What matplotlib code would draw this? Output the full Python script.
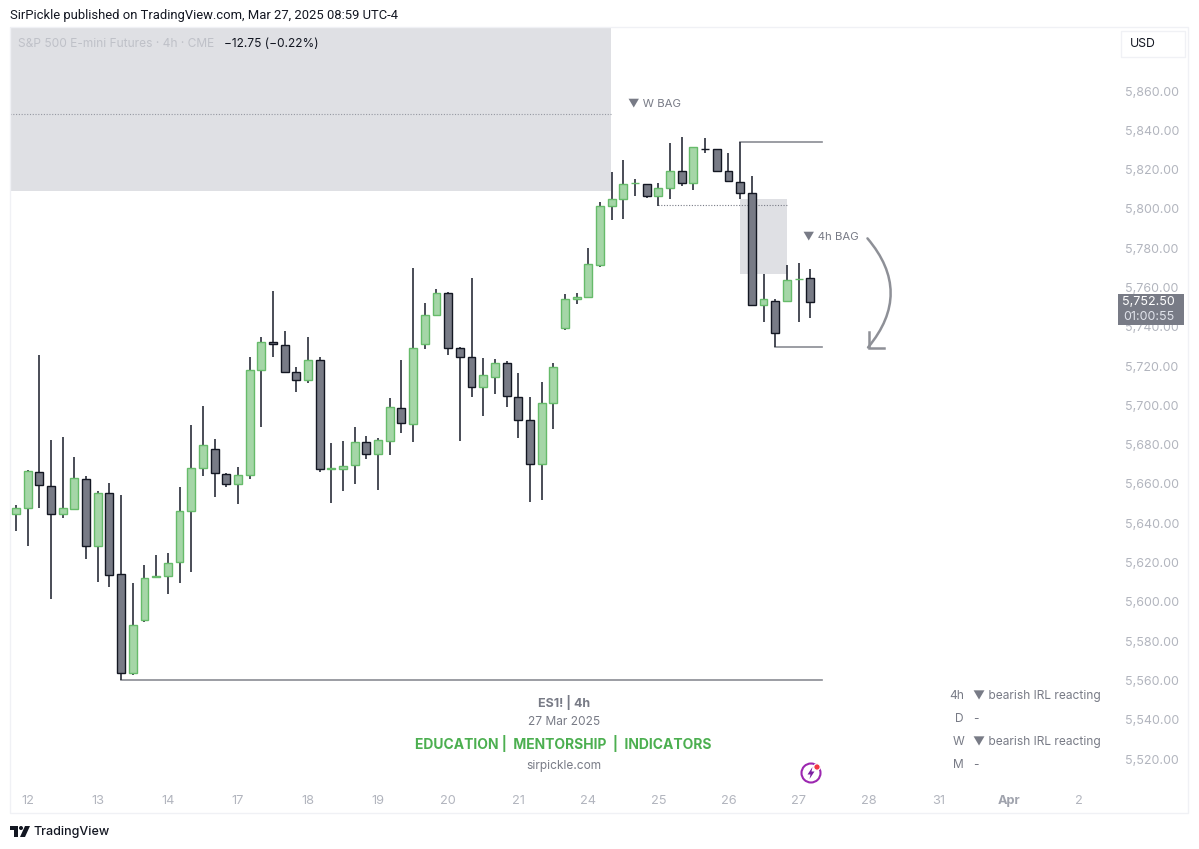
import matplotlib
matplotlib.use("Agg")
import matplotlib.pyplot as plt
from matplotlib.lines import Line2D
from matplotlib.patches import Rectangle, Circle, Polygon

plt.rcParams['font.family'] = ['Inter', 'DejaVu Sans']

W, H = 1199, 849

# OHLC of the 4h bars
opens = [5644.6, 5647.8, 5666.3, 5658.8, 5644.6, 5647.5, 5662.7, 5628.5, 5655.3, 5614.0,
         5564.0, 5591.0, 5612.5, 5613.4, 5620.5, 5646.1, 5668.3, 5677.7, 5665.1, 5660.2,
         5664.8, 5718.0, 5732.3, 5730.7, 5717.0, 5713.1, 5722.9, 5667.8, 5667.8, 5669.8,
         5681.2, 5675.4, 5682.1, 5698.8, 5690.7, 5731.3, 5746.2, 5757.0, 5729.4, 5724.6,
         5709.2, 5714.6, 5721.6, 5704.4, 5692.6, 5670.4, 5701.4, 5739.4, 5754.0, 5755.3,
         5771.6, 5801.5, 5805.2, 5813.2, 5812.5, 5806.7, 5810.8, 5819.3, 5813.3, 5830.6,
         5830.3, 5819.1, 5813.8, 5807.9, 5750.9, 5753.1, 5753.3, 5764.1, 5764.8]
highs = [5649.3, 5667.1, 5725.8, 5682.4, 5683.8, 5673.8, 5664.1, 5656.3, 5660.4, 5654.6,
         5609.8, 5619.0, 5623.7, 5624.7, 5658.5, 5690.0, 5699.7, 5682.9, 5665.6, 5668.7,
         5724.8, 5734.6, 5758.4, 5737.7, 5719.7, 5734.6, 5724.5, 5680.7, 5681.7, 5688.8,
         5684.3, 5683.6, 5703.8, 5722.9, 5769.8, 5752.3, 5759.4, 5757.9, 5729.9, 5764.7,
         5724.1, 5723.4, 5722.4, 5716.7, 5704.1, 5712.1, 5721.8, 5756.5, 5757.0, 5779.9,
         5803.7, 5818.9, 5824.9, 5815.4, 5812.5, 5813.2, 5833.4, 5836.8, 5831.7, 5835.9,
         5830.6, 5828.3, 5833.9, 5816.7, 5766.7, 5754.1, 5771.3, 5772.3, 5769.2]
lows = [5636.1, 5628.5, 5648.0, 5601.3, 5642.9, 5646.8, 5621.8, 5610.3, 5607.8, 5560.3,
        5563.0, 5589.8, 5612.5, 5603.9, 5609.5, 5615.1, 5664.1, 5653.6, 5658.3, 5650.0,
        5662.7, 5689.2, 5724.8, 5716.3, 5707.0, 5711.6, 5666.1, 5650.2, 5656.6, 5659.8,
        5672.7, 5657.0, 5674.8, 5685.8, 5681.5, 5728.5, 5746.2, 5725.5, 5681.9, 5704.1,
        5694.6, 5705.6, 5699.2, 5683.6, 5650.7, 5651.7, 5687.8, 5738.4, 5751.6, 5754.6,
        5770.6, 5794.3, 5794.7, 5806.6, 5805.4, 5801.6, 5805.2, 5811.8, 5809.4, 5828.6,
        5818.9, 5814.4, 5805.2, 5750.4, 5742.6, 5729.5, 5753.3, 5742.6, 5744.5]
closes = [5647.6, 5666.5, 5659.3, 5644.7, 5647.8, 5662.9, 5628.3, 5655.3, 5613.9, 5564.0,
          5588.1, 5612.2, 5613.2, 5620.0, 5646.3, 5668.0, 5679.7, 5665.4, 5660.2, 5664.8,
          5717.9, 5732.1, 5731.3, 5717.2, 5713.1, 5723.1, 5667.8, 5668.1, 5669.0, 5681.4,
          5675.4, 5682.2, 5699.0, 5690.9, 5729.0, 5746.2, 5757.4, 5729.2, 5724.6, 5709.2,
          5715.6, 5721.6, 5705.0, 5692.6, 5670.0, 5701.4, 5719.4, 5754.2, 5755.3, 5771.8,
          5801.3, 5805.2, 5812.5, 5813.3, 5806.7, 5810.5, 5819.3, 5813.3, 5831.3, 5830.5,
          5819.3, 5814.4, 5808.3, 5750.9, 5754.1, 5736.7, 5763.6, 5764.5, 5752.5]

date_labels = ['12', '13', '14', '17', '18', '19', '20', '21', '24', '25', '26', '27', '28', '31', 'Apr', '2']
date_ticks = [1, 7, 13, 19, 25, 31, 37, 43, 49, 55, 61, 67, 73, 79, 85, 91]
price_ticks = list(range(5520, 5861, 20))

# zones and levels
w_zone = (5809.1, 50.94)
w_mid = 5848.2
h4_zone = (5805.0, 5766.7, 62, 66)
h4_mid = 5801.8
last_price = closes[-1]

GREEN_FILL = '#a5d6a7'
GREEN_EDGE = '#66bb6a'
DARK_FILL = '#787b86'
DARK_EDGE = '#131722'
GREY_TEXT = '#787b86'
AXIS_TEXT = '#b2b5be'
ZONE = '#dfe0e4'
ARROW = '#8e9097'

fig = plt.figure(figsize=(W / 100, H / 100), dpi=100, facecolor='white')

# pane runs from y=27 to y=813, x=10 to 1118 in pixels
ax = fig.add_axes([10 / W, 1 - 813 / H, 1108 / W, 786 / H])
ax.set_xlim(-0.514, 94.35)
ax.set_ylim(5860 - 722 / 1.965, 5860 + 64 / 1.965)
for s in ax.spines.values():
    s.set_visible(False)

ax.yaxis.tick_right()
ax.set_yticks(price_ticks)
ax.set_yticklabels([f'{p:,.2f}' for p in price_ticks])
ax.tick_params(axis='y', length=0, pad=5, labelsize=9.0, labelcolor=AXIS_TEXT)
ax.set_xticks(date_ticks)
ax.set_xticklabels(date_labels)
ax.tick_params(axis='x', length=0, pad=-13, labelsize=9.2, labelcolor=AXIS_TEXT)
for lab in ax.get_xticklabels():
    if lab.get_text() == 'Apr':
        lab.set_fontweight('bold')
        lab.set_color('#a0a3ad')

# outer frame of the chart
fig.add_artist(Rectangle((10 / W, 1 - 813 / H), 1178 / W, 786 / H, transform=fig.transFigure,
                         fill=False, ec='#f0f1f5', lw=1))

# grey zones
ax.add_patch(Rectangle((-0.514, w_zone[0]), w_zone[1] + 0.514, 100, fc=ZONE, ec='none', zorder=1))
ax.plot([-0.514, w_zone[1]], [w_mid, w_mid], color='#9598a1', lw=0.8, ls=(0, (1, 1.5)), zorder=1.5)
ax.add_patch(Rectangle((h4_zone[2], h4_zone[1]), h4_zone[3] - h4_zone[2], h4_zone[0] - h4_zone[1],
                       fc=ZONE, ec='none', zorder=1))
ax.plot([55, 66], [h4_mid, h4_mid], color='#787b86', lw=0.8, ls=(0, (1, 1.5)), zorder=1.5)

# liquidity levels
ax.plot([62, 69], [highs[62], highs[62]], color='#8a8c94', lw=1.2, zorder=1.5)
ax.plot([65, 69], [lows[65], lows[65]], color='#8a8c94', lw=1.2, zorder=1.5)
ax.plot([9, 69], [lows[9], lows[9]], color='#8a8c94', lw=1.2, zorder=1.5)

# candles
for i in range(len(opens)):
    up = closes[i] >= opens[i]
    ax.plot([i, i], [lows[i], highs[i]], color='#2a2e39', lw=1.2, zorder=2, solid_capstyle='butt')
    bottom = min(opens[i], closes[i])
    height = abs(closes[i] - opens[i])
    ax.add_patch(Rectangle((i - 0.34, bottom), 0.68, height,
                           fc=GREEN_FILL if up else DARK_FILL,
                           ec=GREEN_EDGE if up else DARK_EDGE, lw=1.0, zorder=3))

# curved arrow next to the 4h label, head drawn by hand as an L
ax.annotate('', xy=(72.95, lows[65]), xytext=(72.9, 5785.0),
            arrowprops=dict(arrowstyle='-', color=ARROW, lw=1.8,
                            connectionstyle='arc3,rad=-0.42', shrinkA=0, shrinkB=0), zorder=4)
fig.add_artist(Line2D([868.5, 868.5, 884], [H - 332, H - 348, H - 348], transform=None,
                      color=ARROW, lw=1.8, solid_joinstyle='miter'))

ax.text(52.4, 5853.4, '▼ W BAG', color=GREY_TEXT, fontsize=8.2, va='center', ha='left')
ax.text(67.4, 5786.0, '▼ 4h BAG', color=GREY_TEXT, fontsize=8.2, va='center', ha='left')

# last price tag
ytrans = ax.get_yaxis_transform()
ax.add_patch(Rectangle((1.0, last_price - 23 / 1.965), 0.0596, 31 / 1.965, transform=ytrans,
                       fc=DARK_FILL, ec='none', zorder=6, clip_on=False))
ax.text(1.0275, last_price, f'{last_price:,.2f}', transform=ytrans, color='white', fontsize=9.0,
        ha='center', va='center', zorder=7, clip_on=False)
ax.text(1.0275, last_price - 15 / 1.965, '01:00:55', transform=ytrans, color='#e0e3eb', fontsize=9.0,
        ha='center', va='center', zorder=7, clip_on=False)


def px_text(x, y, s, **kw):
    fig.text(x / W, 1 - y / H, s, va='center', **kw)


# header and legend
px_text(10, 16, 'SirPickle published on TradingView.com, Mar 27, 2025 08:59 UTC-4', color='#131722',
        fontsize=9.35, family='Roboto')
px_text(18, 44, 'S&P 500 E-mini Futures · 4h · CME', color='#bfc1c8', fontsize=8.6)
px_text(224, 44, '−12.75 (−0.22%)', color='#131722', fontsize=8.6)

# currency box
fig.add_artist(Rectangle((1121 / W, 1 - 57 / H), 64 / W, 26 / H, transform=fig.transFigure,
                         fill=False, ec='#f0f1f5', lw=1))
px_text(1130, 44, 'USD', color='#131722', fontsize=8.8)

# watermark block
px_text(564, 702, 'ES1! | 4h', color=GREY_TEXT, fontsize=9, fontweight='bold', ha='center')
px_text(564, 722, '27 Mar 2025', color=GREY_TEXT, fontsize=8.6, ha='center')
px_text(563, 744, 'EDUCATION |  MENTORSHIP  |  INDICATORS', color='#4caf50', fontsize=10, fontweight='bold', ha='center')
px_text(564, 766, 'sirpickle.com', color=GREY_TEXT, fontsize=8.6, ha='center')

# status table bottom right
table_rows = ['4h', 'D', 'W', 'M']
table_vals = ['▼ bearish IRL reacting', '-', '▼ bearish IRL reacting', '-']
table_y = [696, 719, 742, 765]
for r, v, yy in zip(table_rows, table_vals, table_y):
    px_text(964, yy, r, color=GREY_TEXT, fontsize=8.6, ha='right')
    px_text(973, yy, v, color=GREY_TEXT, fontsize=8.6)

# lightning badge
fig.add_artist(Circle((811, H - 773), 9.5, transform=None, fill=False, ec='#9c27b0', lw=1.5))
fig.add_artist(Polygon([(812.5, H - 767), (807.5, H - 774.5), (810.5, H - 774.5), (809.5, H - 779),
                        (814.5, H - 771.5), (811.5, H - 771.5)], transform=None, fc='#7b1fa2', ec='none'))
fig.add_artist(Circle((817, H - 767), 3.2, transform=None, fc='#f23645', ec='white', lw=0.8))

# footer logo
fig.add_artist(Polygon([(10, H - 826), (18, H - 826), (18, H - 837), (14, H - 837), (14, H - 830), (10, H - 830)],
                       transform=None, fc='#131722', ec='none'))
fig.add_artist(Circle((21, H - 828), 2, transform=None, fc='#131722', ec='none'))
fig.add_artist(Polygon([(25, H - 826), (30, H - 826), (25, H - 837), (20, H - 837)],
                       transform=None, fc='#131722', ec='none'))
px_text(33, 832, 'TradingView', color='#131722', fontsize=9.0, fontweight='medium')

fig.savefig('out.png', dpi=100, facecolor='white')
